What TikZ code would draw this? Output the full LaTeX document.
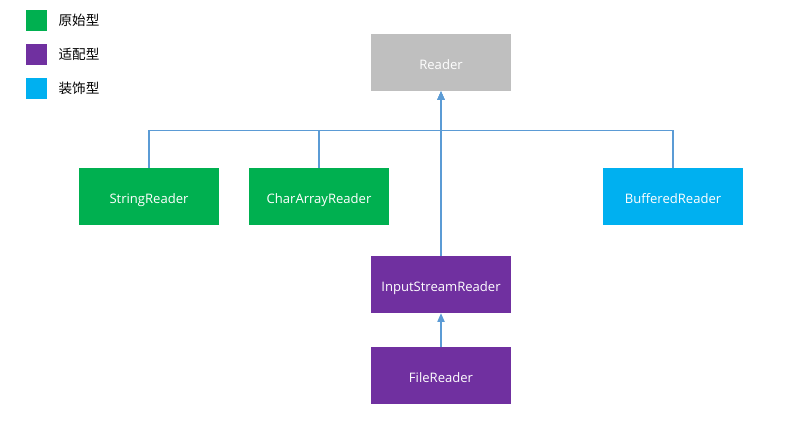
\documentclass[tikz,border=0pt]{standalone}
\usepackage{fontspec}
\setmainfont{Open Sans}
\newfontfamily\cjk{Noto Sans CJK SC}
\usetikzlibrary{arrows.meta}
\definecolor{orig}{HTML}{00B050}
\definecolor{adapt}{HTML}{7030A0}
\definecolor{deco}{HTML}{00B0F0}
\definecolor{base}{HTML}{BFBFBF}
\definecolor{wire}{HTML}{5B9BD5}
\begin{document}
\begin{tikzpicture}[x=0.75pt, y=-0.75pt,
    cls/.style={rectangle,inner sep=0,minimum width=105pt,minimum height=42.75pt,text=white,text height=10pt,text depth=0pt,font=\fontsize{9.8}{11}\selectfont},
    key/.style={rectangle,inner sep=0,minimum size=15.75pt},
    keytext/.style={anchor=west,font=\cjk\fontsize{10.2}{12}\selectfont},
    link/.style={wire,line width=0.8pt},
    tip/.style={-{Triangle[length=6.5pt,width=5.5pt]}}]
    \useasboundingbox (0,0) rectangle (791,437);
    % legend
    \node at (36.5,20.5) [key,fill=orig] (k0) {};
    \node at (k0.east) [keytext,xshift=5pt] (t0) {原始型};
    \node at (36.5,54.5) [key,fill=adapt] (k1) {};
    \node at (k1.east) [keytext,xshift=5pt] (t1) {适配型};
    \node at (36.5,88.5) [key,fill=deco] (k2) {};
    \node at (k2.east) [keytext,xshift=5pt] (t2) {装饰型};
    % classes
    \node at (441,62.5) [cls,fill=base] (Reader) {Reader};
    \node at (149,196.5) [cls,fill=orig] (StringReader) {StringReader};
    \node at (319,196.5) [cls,fill=orig] (CharArrayReader) {CharArrayReader};
    \node at (673,196.5) [cls,fill=deco] (BufferedReader) {BufferedReader};
    \node at (441,284.5) [cls,fill=adapt] (InputStreamReader) {InputStreamReader};
    \node at (441,375.5) [cls,fill=adapt] (FileReader) {FileReader};
    \coordinate (bus) at (441,130.5);
    % links
    \draw[link,tip] (StringReader.north) |- (bus) -- (Reader.south);
    \draw[link] (CharArrayReader.north) -- (CharArrayReader.north |- bus);
    \draw[link,tip] (BufferedReader.north) |- (bus) -- (Reader.south);
    \draw[link,tip] (InputStreamReader.north) -- (Reader.south);
    \draw[link,tip] (FileReader.north) -- (InputStreamReader.south);
\end{tikzpicture}
\end{document}
